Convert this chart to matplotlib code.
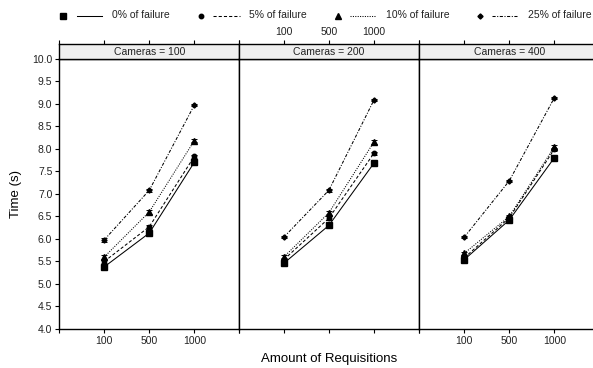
import numpy as np
import matplotlib
matplotlib.use('Agg')
import matplotlib.pyplot as plt
from matplotlib.lines import Line2D

plt.rcParams['font.family'] = ['Liberation Sans', 'DejaVu Sans']

# dados
cameras = [100, 200, 400]
requisitions = ['100', '500', '1000']
failure_labels = ['0% of failure', '5% of failure', '10% of failure', '25% of failure']

# tempo medio (s) por camera (linhas) e requisicoes (colunas)
time_f0 = [[5.38, 6.13, 7.70], [5.46, 6.30, 7.68], [5.54, 6.42, 7.80]]
time_f5 = [[5.50, 6.27, 7.83], [5.54, 6.46, 7.90], [5.58, 6.47, 7.99]]
time_f10 = [[5.60, 6.60, 8.18], [5.60, 6.58, 8.15], [5.68, 6.50, 8.04]]
time_f25 = [[5.98, 7.08, 8.97], [6.04, 7.08, 9.08], [6.04, 7.29, 9.13]]

err_f0 = [[0.05, 0.04, 0.05], [0.04, 0.04, 0.04], [0.04, 0.04, 0.04]]
err_f5 = [[0.04, 0.04, 0.04], [0.03, 0.04, 0.03], [0.03, 0.04, 0.03]]
err_f10 = [[0.05, 0.04, 0.04], [0.04, 0.04, 0.04], [0.03, 0.04, 0.05]]
err_f25 = [[0.04, 0.03, 0.03], [0.03, 0.03, 0.02], [0.02, 0.02, 0.02]]

series = [time_f0, time_f5, time_f10, time_f25]
errors = [err_f0, err_f5, err_f10, err_f25]
markers = ['s', 'o', '^', 'D']
msizes = [4.5, 3.2, 4.2, 2.6]
styles = ['-', (0, (3, 2)), (0, (1, 1.3)), (0, (3, 1.5, 1, 1.5))]

W, H = 593, 368
def rect(x0, y0, x1, y1):
    return [x0 / W, 1 - y1 / H, (x1 - x0) / W, (y1 - y0) / H]

fig = plt.figure(figsize=(W / 100, H / 100), dpi=100)

lefts = [59.3, 238.9, 419.3]
pw = 180.0
ptop, pbot = 58.7, 329.0
stop = 44.3
xs = np.arange(1, len(requisitions) + 1)

for i, cam in enumerate(cameras):
    ax = fig.add_axes(rect(lefts[i], ptop, lefts[i] + pw, pbot))
    for s in range(4):
        vals = [series[s][i][k] for k in range(3)]
        errs = [errors[s][i][k] for k in range(3)]
        ax.errorbar(xs, vals, yerr=errs, color='black', lw=0.75, ls=styles[s],
                    marker=markers[s], ms=msizes[s], capsize=2.2, elinewidth=0.7,
                    capthick=0.7)
    ax.set_xlim(0, 4)
    ax.set_ylim(4.0, 10.0)
    ax.set_xticks([0, 1, 2, 3, 4])
    if i != 1:
        ax.set_xticklabels([''] + requisitions + [''])
    else:
        ax.set_xticklabels([])
    ax.set_yticks(np.arange(4.0, 10.01, 0.5))
    if i == 0:
        ax.set_yticklabels(['%.1f' % v for v in np.arange(4.0, 10.01, 0.5)])
        ax.tick_params(axis='y', left=True, right=False)
    else:
        ax.tick_params(axis='y', left=False, right=False, labelleft=False)
    ax.tick_params(direction='out', length=3, width=0.8, labelsize=7.5, pad=2,
                   colors='black', labelcolor='#222222')
    for sp in ax.spines.values():
        sp.set_linewidth(1.0)

    # strip
    st = fig.add_axes(rect(lefts[i], stop, lefts[i] + pw, ptop))
    st.set_facecolor('#efefef')
    st.set_xlim(0, 4)
    st.set_yticks([])
    st.set_xticks([0, 1, 2, 3, 4])
    st.xaxis.tick_top()
    if i == 1:
        st.set_xticklabels([''] + requisitions + [''])
    else:
        st.set_xticklabels([])
    st.tick_params(direction='out', length=3, width=0.8, labelsize=7.5, pad=2,
                   labelcolor='#222222')
    for sp in st.spines.values():
        sp.set_linewidth(1.0)
    st.text(0.5, 0.45, 'Cameras = %d' % cam, transform=st.transAxes,
            ha='center', va='center', fontsize=7.5, color='#222222')

# legenda
ly = 1 - 15.5 / H
mk_x = [63, 201, 338, 480]
ln_x = [(77, 102), (213, 240), (350, 376), (492, 518)]
tx_x = [112, 249, 386, 528]
for s in range(4):
    fig.add_artist(Line2D([mk_x[s] / W], [ly], marker=markers[s], ms=msizes[s],
                          color='black', ls='none', transform=fig.transFigure))
    fig.add_artist(Line2D([ln_x[s][0] / W, ln_x[s][1] / W], [ly, ly], color='black',
                          lw=0.75, ls=styles[s], transform=fig.transFigure))
    fig.text(tx_x[s] / W, ly, failure_labels[s], fontsize=7.5, va='center',
             ha='left', color='#222222')

fig.text(0.5 * (59.3 + 599.3) / W, 1 - 359 / H, 'Amount of Requisitions',
         ha='center', va='center', fontsize=9.5)
fig.text(16 / W, 1 - 194 / H, 'Time (s)', rotation=90, ha='center', va='center',
         fontsize=9.5)

plt.savefig('out.png', dpi=100)
